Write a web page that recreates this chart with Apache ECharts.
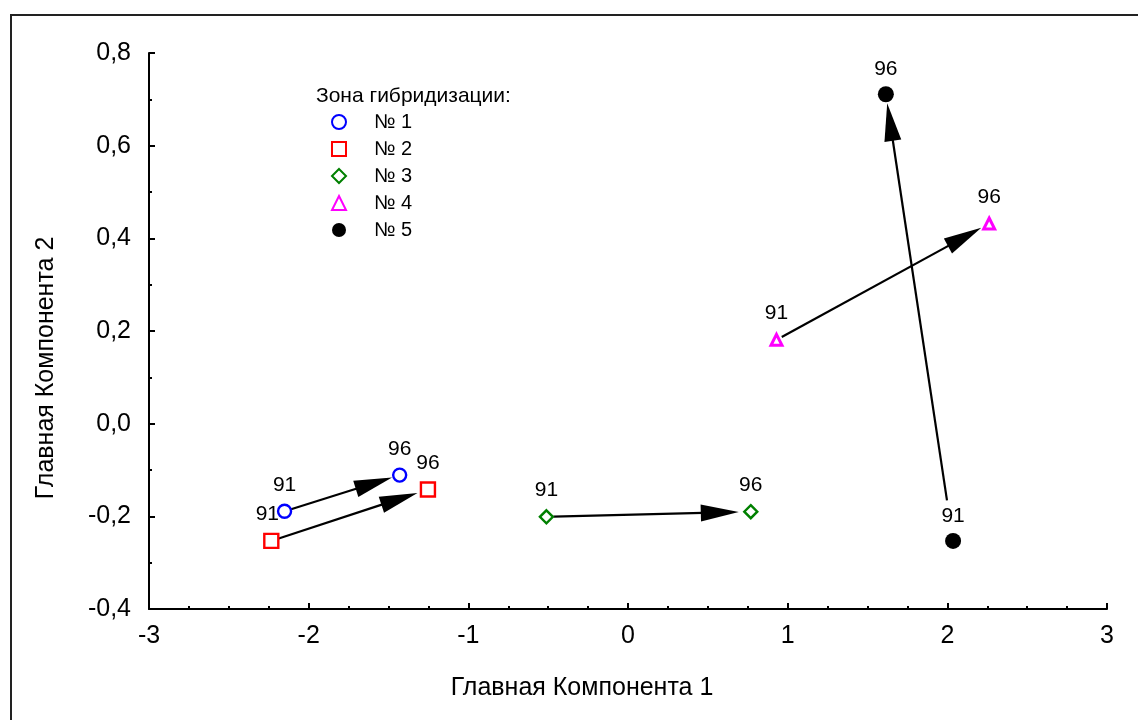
<!DOCTYPE html>
<html>
<head>
<meta charset="utf-8">
<script src="https://cdn.jsdelivr.net/npm/echarts@6/dist/echarts.min.js"></script>
<style>html,body{margin:0;padding:0;background:#fff}#c{width:1138px;height:720px}</style>
</head>
<body>
<div id="c"></div>
<script>
// ---- data ----
const zones = ['№ 1', '№ 2', '№ 3', '№ 4', '№ 5'];
const legendTitle = 'Зона гибридизации:';
const yearLabels = ['91', '96'];
const x91 = [-2.151, -2.234, -0.511, 0.930, 2.036];
const y91 = [-0.189, -0.253, -0.201, 0.181, -0.253];
const x96 = [-1.430, -1.253, 0.769, 2.262, 1.615];
const y96 = [-0.111, -0.142, -0.190, 0.432, 0.711];
const xName = 'Главная Компонента 1';
const yName = 'Главная Компонента 2';

// ---- styles ----
const FONT = 'Liberation Sans, Arial, sans-serif';
const zoneStyles = [
  {symbol: 'circle', size: 13, fill: '#ffffff', stroke: '#0000ff', bw: 2.4},
  {symbol: 'rect', size: 14, fill: '#ffffff', stroke: '#ff0000', bw: 2.4},
  {symbol: 'diamond', size: 13, fill: '#ffffff', stroke: '#008000', bw: 2.4},
  {symbol: 'triangle', size: 11, fill: '#ffffff', stroke: '#ff00ff', bw: 3},
  {symbol: 'circle', size: 16, fill: '#000000', stroke: '#000000', bw: 0}
];
const arrowStartGap = [6, 7, 7, 6, 41];
const arrowEndGap = [8, 11, 12, 9, 9];
const labelShift = [[0, 0], [-4, 0], [0, 0], [0, 0], [0, 0]];
const LABEL_FS = 21;

const chart = echarts.init(document.getElementById('c'), null, {renderer: 'canvas'});

const series = [];
// arrows
series.push({
  type: 'custom',
  name: 'arrows',
  silent: true,
  z: 1,
  data: zones.map((z, i) => [x91[i], y91[i], x96[i], y96[i], i]),
  renderItem: function (params, api) {
    const i = api.value(4);
    const p0 = api.coord([api.value(0), api.value(1)]);
    const p1 = api.coord([api.value(2), api.value(3)]);
    const dx = p1[0] - p0[0], dy = p1[1] - p0[1];
    const L = Math.sqrt(dx * dx + dy * dy);
    const ux = dx / L, uy = dy / L;
    const px = -uy, py = ux;
    const s = [p0[0] + ux * arrowStartGap[i], p0[1] + uy * arrowStartGap[i]];
    const tip = [p1[0] - ux * arrowEndGap[i], p1[1] - uy * arrowEndGap[i]];
    const headL = 38, headW = 8.5;
    const base = [tip[0] - ux * headL, tip[1] - uy * headL];
    return {
      type: 'group',
      children: [
        {type: 'line', shape: {x1: s[0], y1: s[1], x2: base[0] + ux * 2, y2: base[1] + uy * 2},
          style: {stroke: '#000', lineWidth: 2.2}},
        {type: 'polygon', shape: {points: [tip,
          [base[0] + px * headW, base[1] + py * headW],
          [base[0] - px * headW, base[1] - py * headW]]},
          style: {fill: '#000'}}
      ]
    };
  }
});

zones.forEach((z, i) => {
  const st = zoneStyles[i];
  series.push({
    type: 'scatter',
    name: z,
    z: 3,
    symbol: st.symbol,
    symbolSize: st.size,
    itemStyle: {color: st.fill, borderColor: st.stroke, borderWidth: st.bw, opacity: 1},
    label: {
      show: true, position: 'top', distance: 25 - st.size / 2 - LABEL_FS / 2,
      color: '#000', fontSize: LABEL_FS, fontFamily: FONT,
      formatter: p => p.value[2]
    },
    emphasis: {disabled: true},
    data: [
      {value: [x91[i], y91[i], yearLabels[0]], label: {offset: labelShift[i]}},
      {value: [x96[i], y96[i], yearLabels[1]]}
    ]
  });
});

chart.setOption({
  animation: false,
  backgroundColor: '#ffffff',
  title: {
    text: legendTitle, left: 316, top: 86,
    padding: 0,
    textStyle: {fontSize: 21, fontWeight: 'normal', color: '#000', fontFamily: FONT}
  },
  legend: {
    orient: 'vertical', left: 331, top: 112, padding: 0,
    itemWidth: 14, itemHeight: 14, itemGap: 7,
    data: zones,
    selectedMode: false,
    textStyle: {fontSize: 20, color: '#000', fontFamily: FONT, padding: [0, 0, 0, 23]}
  },
  graphic: [{
    type: 'rect', shape: {x: 11, y: 15, width: 1200, height: 800},
    style: {fill: 'none', stroke: '#222', lineWidth: 2}, z: -1
  }],
  grid: {left: 149, top: 53, right: 31, bottom: 111, containLabel: false},
  xAxis: {
    type: 'value', min: -3, max: 3, interval: 1,
    name: xName, nameLocation: 'middle', nameGap: 67,
    nameTextStyle: {fontSize: 25, color: '#000', fontFamily: FONT, padding: [0, 92, 0, 0]},
    axisLine: {show: true, onZero: false, lineStyle: {color: '#000', width: 2}},
    axisTick: {show: true, inside: true, length: 6, lineStyle: {color: '#000', width: 2}},
    minorTick: {show: true, splitNumber: 4, length: 3, lineStyle: {color: '#000', width: 2}},
    axisLabel: {fontSize: 25, color: '#000', fontFamily: FONT, margin: 15,
      formatter: v => String(v).replace('.', ',')},
    splitLine: {show: false}
  },
  yAxis: {
    type: 'value', min: -0.4, max: 0.8, interval: 0.2,
    name: yName, nameLocation: 'middle', nameGap: 90,
    nameTextStyle: {fontSize: 25, color: '#000', fontFamily: FONT, padding: [0, 74, 0, 0]},
    axisLine: {show: true, onZero: false, lineStyle: {color: '#000', width: 2}},
    axisTick: {show: true, inside: true, length: 6, lineStyle: {color: '#000', width: 2}},
    minorTick: {show: true, splitNumber: 2, length: 3, lineStyle: {color: '#000', width: 2}},
    axisLabel: {fontSize: 25, color: '#000', fontFamily: FONT, margin: 18,
      formatter: v => v.toFixed(1).replace('.', ',')},
    splitLine: {show: false}
  },
  series: series
});
</script>
</body>
</html>
